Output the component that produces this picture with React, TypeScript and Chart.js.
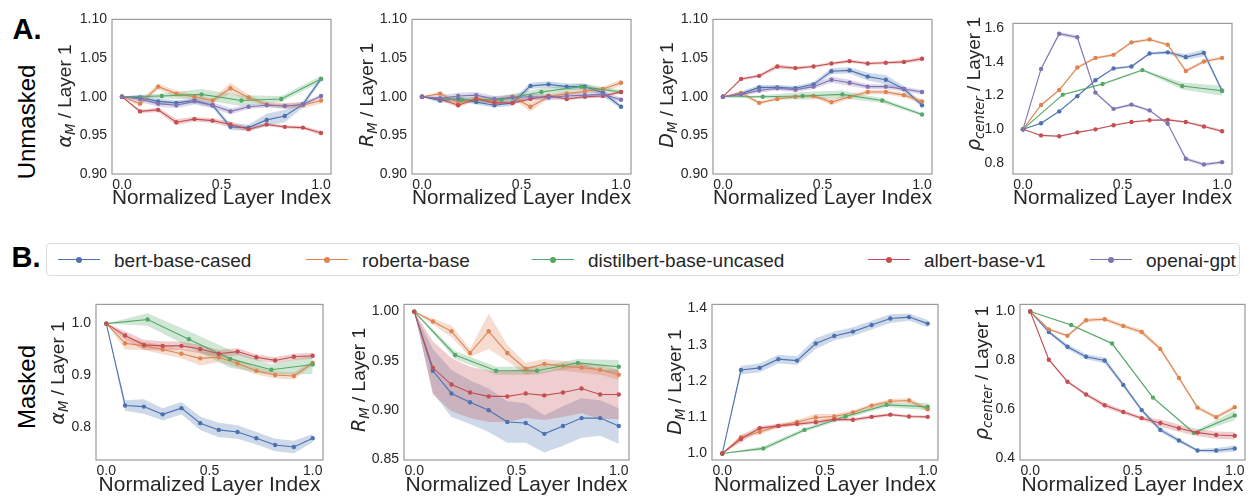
import React, { useEffect, useRef } from "react";
import { Chart, registerables } from "chart.js";

Chart.register(...registerables);

const FONT = "'Liberation Sans', Arial, Helvetica, sans-serif";
const MATH = "'DejaVu Sans', sans-serif";
const TEXT = "#262626";
Chart.defaults.font.family = FONT;

// ---------- categories / legend ----------
const models = ["bert-base-cased", "roberta-base", "distilbert-base-uncased", "albert-base-v1", "openai-gpt"];
const colors = ["#4C72B0", "#DD8452", "#55A868", "#C44E52", "#8172B3"];
const bands = ["rgba(76,114,176,0.28)", "rgba(221,132,82,0.28)", "rgba(85,168,104,0.28)", "rgba(196,78,82,0.28)", "rgba(129,114,179,0.28)"];

// normalized layer index (12-layer models, 6-layer distilbert)
const layers12 = [0, 0.091, 0.182, 0.273, 0.364, 0.455, 0.545, 0.636, 0.727, 0.818, 0.909, 1.0];
const layers6 = [0, 0.2, 0.4, 0.6, 0.8, 1.0];
const xTicks = [0, 0.5, 1.0];

// ---------- tick labels ----------
const ticksUnmasked = [0.9, 0.95, 1.0, 1.05, 1.1];
const ticksRhoUnmasked = [0.8, 1.0, 1.2, 1.4, 1.6];
const ticksAlphaMasked = [0.8, 0.9, 1.0];
const ticksRMasked = [0.85, 0.9, 0.95, 1.0];
const ticksDMasked = [1.0, 1.1, 1.2, 1.3, 1.4];
const ticksRhoMasked = [0.4, 0.6, 0.8, 1.0];

// ---------- A. Unmasked : alpha_M ----------
const alphaUBert = [1.0, 0.999, 0.994, 0.992, 0.995, 0.989, 0.961, 0.96, 0.97, 0.975, 0.99, 1.023];
const alphaUBertSd = [0, 0.004, 0.004, 0.003, 0.003, 0.003, 0.004, 0.004, 0.008, 0.008, 0.004, 0.003];
const alphaURoberta = [1.0, 0.991, 1.013, 1.004, 1.0, 0.995, 1.011, 0.999, 0.99, 0.988, 0.989, 0.995];
const alphaURobertaSd = [0, 0.004, 0.004, 0.004, 0.003, 0.003, 0.007, 0.004, 0.003, 0.004, 0.004, 0.004];
const alphaUDistil = [1.0, 1.001, 1.003, 0.995, 0.997, 1.023];
const alphaUDistilSd = [0, 0.003, 0.007, 0.007, 0.004, 0.004];
const alphaUAlbert = [1.0, 0.981, 0.983, 0.967, 0.971, 0.969, 0.964, 0.958, 0.964, 0.961, 0.96, 0.953];
const alphaUAlbertSd = [0, 0.002, 0.003, 0.004, 0.003, 0.003, 0.004, 0.003, 0.002, 0.002, 0.002, 0.003];
const alphaUGpt = [1.0, 0.997, 0.991, 0.989, 0.994, 0.989, 0.981, 0.987, 0.989, 0.988, 0.99, 1.001];
const alphaUGptSd = [0, 0.004, 0.004, 0.004, 0.004, 0.004, 0.004, 0.003, 0.003, 0.003, 0.003, 0.002];

// ---------- A. Unmasked : R_M ----------
const rUBert = [1.0, 0.995, 0.997, 0.993, 0.989, 0.992, 1.014, 1.016, 1.013, 1.013, 1.005, 0.987];
const rUBertSd = [0, 0.003, 0.003, 0.003, 0.003, 0.004, 0.004, 0.004, 0.004, 0.004, 0.004, 0.003];
const rURoberta = [1.0, 1.004, 0.992, 0.998, 0.994, 1.0, 0.987, 1.0, 1.004, 1.007, 1.01, 1.018];
const rURobertaSd = [0, 0.003, 0.003, 0.003, 0.003, 0.003, 0.006, 0.003, 0.003, 0.003, 0.003, 0.004];
const rUDistil = [1.0, 0.996, 0.996, 1.006, 1.013, 1.006];
const rUDistilSd = [0, 0.003, 0.005, 0.005, 0.004, 0.003];
const rUAlbert = [1.0, 0.997, 0.989, 0.997, 0.992, 0.992, 0.997, 1.001, 0.997, 1.0, 1.001, 1.006];
const rUAlbertSd = [0, 0.002, 0.003, 0.002, 0.002, 0.002, 0.002, 0.002, 0.002, 0.002, 0.002, 0.002];
const rUGpt = [1.0, 0.998, 1.001, 1.002, 0.997, 0.999, 1.0, 0.999, 1.001, 1.002, 1.003, 0.996];
const rUGptSd = [0, 0.004, 0.004, 0.004, 0.004, 0.004, 0.004, 0.004, 0.004, 0.004, 0.004, 0.003];

// ---------- A. Unmasked : D_M ----------
const dUBert = [1.0, 1.004, 1.012, 1.012, 1.011, 1.016, 1.033, 1.034, 1.026, 1.022, 1.01, 0.989];
const dUBertSd = [0, 0.003, 0.003, 0.003, 0.003, 0.003, 0.004, 0.004, 0.005, 0.006, 0.004, 0.003];
const dURoberta = [1.0, 1.005, 0.992, 0.997, 1.0, 1.001, 0.993, 1.0, 1.006, 1.006, 1.002, 0.994];
const dURobertaSd = [0, 0.003, 0.002, 0.002, 0.002, 0.002, 0.004, 0.003, 0.003, 0.003, 0.003, 0.003];
const dUDistil = [1.0, 1.0, 1.001, 1.003, 0.995, 0.977];
const dUDistilSd = [0, 0.002, 0.005, 0.005, 0.003, 0.002];
const dUAlbert = [1.0, 1.023, 1.027, 1.039, 1.037, 1.039, 1.043, 1.046, 1.043, 1.044, 1.045, 1.049];
const dUAlbertSd = [0, 0.002, 0.002, 0.003, 0.002, 0.002, 0.002, 0.002, 0.002, 0.002, 0.002, 0.003];
const dUGpt = [1.0, 1.003, 1.008, 1.011, 1.009, 1.013, 1.022, 1.018, 1.013, 1.013, 1.01, 1.006];
const dUGptSd = [0, 0.002, 0.003, 0.003, 0.003, 0.003, 0.004, 0.004, 0.003, 0.003, 0.003, 0.003];

// ---------- A. Unmasked : rho_center ----------
const rhoUBert = [1.0, 1.036, 1.106, 1.196, 1.29, 1.36, 1.371, 1.448, 1.455, 1.427, 1.452, 1.228];
const rhoUBertSd = [0, 0.005, 0.005, 0.005, 0.006, 0.006, 0.007, 0.008, 0.01, 0.018, 0.02, 0.01];
const rhoURoberta = [1.0, 1.144, 1.232, 1.365, 1.422, 1.44, 1.514, 1.531, 1.5, 1.345, 1.401, 1.422];
const rhoURobertaSd = [0, 0.005, 0.006, 0.008, 0.008, 0.008, 0.008, 0.008, 0.008, 0.01, 0.01, 0.01];
const rhoUDistil = [1.0, 1.205, 1.268, 1.35, 1.256, 1.228];
const rhoUDistilSd = [0, 0.004, 0.006, 0.006, 0.02, 0.03];
const rhoUAlbert = [1.0, 0.964, 0.959, 0.982, 1.0, 1.024, 1.043, 1.054, 1.056, 1.043, 1.017, 0.989];
const rhoUAlbertSd = [0, 0.003, 0.004, 0.004, 0.004, 0.004, 0.005, 0.005, 0.006, 0.006, 0.008, 0.008];
const rhoUGpt = [1.0, 1.357, 1.565, 1.544, 1.217, 1.121, 1.146, 1.112, 1.033, 0.826, 0.792, 0.806];
const rhoUGptSd = [0, 0.005, 0.01, 0.012, 0.006, 0.008, 0.008, 0.006, 0.006, 0.01, 0.01, 0.008];

// ---------- B. Masked : alpha_M ----------
const alphaMBert = [1.0, 0.842, 0.84, 0.825, 0.837, 0.808, 0.795, 0.791, 0.779, 0.766, 0.762, 0.779];
const alphaMBertSd = [0, 0.01, 0.014, 0.012, 0.012, 0.013, 0.014, 0.013, 0.012, 0.012, 0.012, 0.008];
const alphaMRoberta = [1.0, 0.962, 0.957, 0.95, 0.942, 0.933, 0.935, 0.923, 0.909, 0.901, 0.899, 0.924];
const alphaMRobertaSd = [0, 0.012, 0.008, 0.009, 0.009, 0.014, 0.009, 0.008, 0.007, 0.007, 0.007, 0.005];
const alphaMDistil = [1.0, 1.008, 0.97, 0.932, 0.911, 0.921];
const alphaMDistilSd = [0, 0.012, 0.015, 0.017, 0.01, 0.018];
const alphaMAlbert = [1.0, 0.977, 0.959, 0.957, 0.957, 0.951, 0.942, 0.946, 0.935, 0.929, 0.936, 0.938];
const alphaMAlbertSd = [0, 0.008, 0.01, 0.009, 0.008, 0.008, 0.007, 0.007, 0.006, 0.006, 0.006, 0.006];

// ---------- B. Masked : R_M ----------
const rMBert = [1.0, 0.94, 0.917, 0.908, 0.9, 0.888, 0.887, 0.876, 0.884, 0.892, 0.892, 0.884];
const rMBertSd = [0, 0.022, 0.024, 0.022, 0.022, 0.021, 0.02, 0.019, 0.02, 0.02, 0.018, 0.018];
const rMRoberta = [1.0, 0.99, 0.98, 0.958, 0.98, 0.958, 0.942, 0.947, 0.945, 0.943, 0.941, 0.936];
const rMRobertaSd = [0, 0.003, 0.006, 0.004, 0.018, 0.008, 0.006, 0.005, 0.005, 0.005, 0.005, 0.005];
const rMDistil = [1.0, 0.956, 0.94, 0.94, 0.948, 0.944];
const rMDistilSd = [0, 0.004, 0.004, 0.004, 0.004, 0.007];
const rMAlbert = [1.0, 0.943, 0.926, 0.918, 0.914, 0.914, 0.917, 0.915, 0.918, 0.922, 0.916, 0.916];
const rMAlbertSd = [0, 0.027, 0.027, 0.026, 0.026, 0.026, 0.025, 0.025, 0.025, 0.025, 0.025, 0.025];

// ---------- B. Masked : D_M ----------
const dMBert = [1.0, 1.23, 1.236, 1.26, 1.256, 1.303, 1.324, 1.336, 1.354, 1.372, 1.376, 1.358];
const dMBertSd = [0, 0.012, 0.012, 0.012, 0.012, 0.015, 0.012, 0.012, 0.012, 0.012, 0.01, 0.01];
const dMRoberta = [1.0, 1.045, 1.059, 1.076, 1.087, 1.099, 1.102, 1.113, 1.132, 1.144, 1.146, 1.122];
const dMRobertaSd = [0, 0.006, 0.007, 0.006, 0.006, 0.01, 0.007, 0.006, 0.006, 0.006, 0.007, 0.007];
const dMDistil = [1.0, 1.014, 1.065, 1.102, 1.134, 1.129];
const dMDistilSd = [0, 0.006, 0.005, 0.006, 0.006, 0.01];
const dMAlbert = [1.0, 1.04, 1.07, 1.076, 1.081, 1.086, 1.094, 1.093, 1.101, 1.107, 1.102, 1.101];
const dMAlbertSd = [0, 0.01, 0.006, 0.006, 0.005, 0.005, 0.005, 0.005, 0.005, 0.004, 0.004, 0.004];

// ---------- B. Masked : rho_center ----------
const rhoMBert = [1.0, 0.916, 0.856, 0.815, 0.8, 0.7, 0.597, 0.516, 0.473, 0.432, 0.432, 0.44];
const rhoMBertSd = [0, 0.006, 0.01, 0.01, 0.012, 0.01, 0.008, 0.01, 0.008, 0.006, 0.01, 0.012];
const rhoMRoberta = [1.0, 0.927, 0.901, 0.964, 0.968, 0.941, 0.916, 0.847, 0.728, 0.607, 0.568, 0.609];
const rhoMRobertaSd = [0, 0.006, 0.006, 0.008, 0.008, 0.008, 0.01, 0.01, 0.008, 0.008, 0.008, 0.01];
const rhoMDistil = [1.0, 0.945, 0.869, 0.648, 0.504, 0.575];
const rhoMDistilSd = [0, 0.003, 0.004, 0.004, 0.005, 0.02];
const rhoMAlbert = [1.0, 0.803, 0.713, 0.661, 0.617, 0.589, 0.564, 0.544, 0.523, 0.505, 0.495, 0.492];
const rhoMAlbertSd = [0, 0.004, 0.006, 0.006, 0.01, 0.008, 0.008, 0.015, 0.015, 0.015, 0.015, 0.015];

// ---------- layout ----------
const YW = 50; // y-axis box width
const XH = 36; // x-axis box height
const TP = 10; // top padding
const RP = 4; // right padding

type Series = [number[], number[]] | null;
interface PanelCfg {
  area: [number, number, number, number];
  yMin: number;
  yMax: number;
  yTicks: number[];
  digits: number;
  tickPad: number;
  xTitlePad: number;
  sym: string;
  sub: string;
  titleX: number;
  titleY: number;
  series: Series[];
}

const panels: PanelCfg[] = [
  {
    area: [112, 16, 331, 174], yMin: 0.9, yMax: 1.1, yTicks: ticksUnmasked, digits: 2, tickPad: 5, xTitlePad: 1,
    sym: "α", sub: "M", titleX: 64, titleY: 96,
    series: [[alphaUBert, alphaUBertSd], [alphaURoberta, alphaURobertaSd], [alphaUDistil, alphaUDistilSd], [alphaUAlbert, alphaUAlbertSd], [alphaUGpt, alphaUGptSd]],
  },
  {
    area: [412, 16, 631, 174], yMin: 0.9, yMax: 1.1, yTicks: ticksUnmasked, digits: 2, tickPad: 5, xTitlePad: 1,
    sym: "R", sub: "M", titleX: 366, titleY: 95,
    series: [[rUBert, rUBertSd], [rURoberta, rURobertaSd], [rUDistil, rUDistilSd], [rUAlbert, rUAlbertSd], [rUGpt, rUGptSd]],
  },
  {
    area: [713, 16, 932, 174], yMin: 0.9, yMax: 1.1, yTicks: ticksUnmasked, digits: 2, tickPad: 5, xTitlePad: 1,
    sym: "D", sub: "M", titleX: 666, titleY: 95,
    series: [[dUBert, dUBertSd], [dURoberta, dURobertaSd], [dUDistil, dUDistilSd], [dUAlbert, dUAlbertSd], [dUGpt, dUGptSd]],
  },
  {
    area: [1013, 16, 1232, 174], yMin: 0.736, yMax: 1.626, yTicks: ticksRhoUnmasked, digits: 1, tickPad: 9, xTitlePad: 1,
    sym: "ρ", sub: "center", titleX: 973, titleY: 84,
    series: [[rhoUBert, rhoUBertSd], [rhoURoberta, rhoURobertaSd], [rhoUDistil, rhoUDistilSd], [rhoUAlbert, rhoUAlbertSd], [rhoUGpt, rhoUGptSd]],
  },
  {
    area: [96, 301, 323, 460], yMin: 0.737, yMax: 1.037, yTicks: ticksAlphaMasked, digits: 1, tickPad: 5, xTitlePad: 0,
    sym: "α", sub: "M", titleX: 57, titleY: 373,
    series: [[alphaMBert, alphaMBertSd], [alphaMRoberta, alphaMRobertaSd], [alphaMDistil, alphaMDistilSd], [alphaMAlbert, alphaMAlbertSd], null],
  },
  {
    area: [404, 301, 629, 460], yMin: 0.8495, yMax: 1.0073, yTicks: ticksRMasked, digits: 2, tickPad: 5, xTitlePad: 0,
    sym: "R", sub: "M", titleX: 358, titleY: 380,
    series: [[rMBert, rMBertSd], [rMRoberta, rMRobertaSd], [rMDistil, rMDistilSd], [rMAlbert, rMAlbertSd], null],
  },
  {
    area: [712, 301, 938, 460], yMin: 0.982, yMax: 1.411, yTicks: ticksDMasked, digits: 1, tickPad: 5, xTitlePad: 0,
    sym: "D", sub: "M", titleX: 674, titleY: 382,
    series: [[dMBert, dMBertSd], [dMRoberta, dMRobertaSd], [dMDistil, dMDistilSd], [dMAlbert, dMAlbertSd], null],
  },
  {
    area: [1020, 301, 1245, 460], yMin: 0.393, yMax: 1.029, yTicks: ticksRhoMasked, digits: 1, tickPad: 5, xTitlePad: 0,
    sym: "ρ", sub: "center", titleX: 981, titleY: 373,
    series: [[rhoMBert, rhoMBertSd], [rhoMRoberta, rhoMRobertaSd], [rhoMDistil, rhoMDistilSd], [rhoMAlbert, rhoMAlbertSd], null],
  },
];

const framePlugin = {
  id: "frame",
  afterDatasetsDraw(chart: any) {
    const { ctx, chartArea } = chart;
    const { left, top, right, bottom } = chartArea;
    ctx.save();
    ctx.strokeStyle = "#9a9a9a";
    ctx.lineWidth = 1.2;
    ctx.strokeRect(left, top, right - left, bottom - top);
    ctx.restore();
  },
};

function buildDatasets(cfg: PanelCfg) {
  const bandSets: any[] = [];
  const lineSets: any[] = [];
  cfg.series.forEach((s, i) => {
    if (!s) return;
    const [mean, sd] = s;
    const xs = i === 2 ? layers6 : layers12;
    bandSets.push({
      label: models[i] + " upper",
      data: mean.map((v, k) => ({ x: xs[k], y: v + sd[k] })),
      borderWidth: 0,
      borderColor: "rgba(0,0,0,0)",
      pointRadius: 0,
      fill: false,
      order: 20 - i,
    });
    bandSets.push({
      label: models[i] + " lower",
      data: mean.map((v, k) => ({ x: xs[k], y: v - sd[k] })),
      borderWidth: 0,
      borderColor: "rgba(0,0,0,0)",
      backgroundColor: bands[i],
      pointRadius: 0,
      fill: "-1",
      order: 20 - i,
    });
    lineSets.push({
      label: models[i],
      data: mean.map((v, k) => ({ x: xs[k], y: v })),
      borderColor: colors[i],
      backgroundColor: colors[i],
      pointBackgroundColor: colors[i],
      pointBorderWidth: 0,
      pointRadius: 2.2,
      borderWidth: 1.1,
      fill: false,
      order: 10 - i,
    });
  });
  return [...bandSets, ...lineSets];
}

function Panel({ cfg }: { cfg: PanelCfg }) {
  const ref = useRef<HTMLCanvasElement>(null);
  const [l, t, r, b] = cfg.area;
  const w = YW + (r - l) + RP;
  const h = TP + (b - t) + XH;
  useEffect(() => {
    if (!ref.current) return;
    const chart = new Chart(ref.current, {
      type: "line",
      data: { datasets: buildDatasets(cfg) },
      options: {
        animation: false,
        responsive: false,
        maintainAspectRatio: false,
        layout: { padding: { top: TP, right: RP, left: 0, bottom: 0 } },
        elements: { line: { tension: 0 } },
        plugins: { legend: { display: false }, tooltip: { enabled: false } },
        scales: {
          x: {
            type: "linear",
            min: -0.05,
            max: 1.05,
            grid: { display: false, drawTicks: false, tickLength: 0 },
            border: { display: false },
            ticks: {
              color: TEXT,
              font: { family: FONT, size: 14, lineHeight: 1.2 },
              padding: 3,
              maxRotation: 0,
              autoSkip: false,
              callback: (v: any) => Number(v).toFixed(1),
            },
            afterBuildTicks: (s: any) => {
              s.ticks = xTicks.map((v) => ({ value: v }));
            },
            afterFit: (s: any) => {
              s.height = XH;
            },
            title: {
              display: true,
              text: "Normalized Layer Index",
              color: TEXT,
              font: { family: FONT, size: 21, lineHeight: 1 },
              padding: { top: 0, bottom: cfg.xTitlePad },
            },
          },
          y: {
            type: "linear",
            min: cfg.yMin,
            max: cfg.yMax,
            grid: { display: false, drawTicks: false, tickLength: 0 },
            border: { display: false },
            ticks: {
              color: TEXT,
              font: { family: FONT, size: 14, lineHeight: 1.2 },
              padding: cfg.tickPad,
              autoSkip: false,
              callback: (v: any) => Number(v).toFixed(cfg.digits),
            },
            afterBuildTicks: (s: any) => {
              s.ticks = cfg.yTicks.map((v) => ({ value: v }));
            },
            afterFit: (s: any) => {
              s.width = YW;
            },
          },
        },
      },
      plugins: [framePlugin],
    } as any);
    return () => chart.destroy();
  }, []);
  return (
    <canvas
      ref={ref}
      width={w}
      height={h}
      style={{ position: "absolute", left: l - YW, top: t - TP, width: w, height: h }}
    />
  );
}

function Centered({ x, y, rotate, style, children }: any) {
  return (
    <div
      style={{
        position: "absolute",
        left: x,
        top: y,
        transform: `translate(-50%, -50%)${rotate ? " rotate(-90deg)" : ""}`,
        whiteSpace: "nowrap",
        lineHeight: 1,
        fontFamily: FONT,
        color: "#000",
        ...style,
      }}
    >
      {children}
    </div>
  );
}

function YTitle({ cfg }: { cfg: PanelCfg }) {
  return (
    <Centered x={cfg.titleX} y={cfg.titleY} rotate style={{ fontSize: 19, color: TEXT }}>
      <span style={{ fontFamily: MATH, fontStyle: "italic" }}>{cfg.sym}</span>
      <span style={{ fontFamily: MATH, fontStyle: "italic", fontSize: "0.7em", position: "relative", top: "0.28em" }}>
        {cfg.sub}
      </span>
      <span> / Layer 1</span>
    </Centered>
  );
}

const legendLineStart = [58, 306, 532, 868, 1090];
const legendTextStart = [114, 362, 588, 924, 1146];

function Legend() {
  return (
    <div>
      <div
        style={{
          position: "absolute",
          left: 46,
          top: 243,
          width: 1194,
          height: 33,
          border: "1px solid #dcdcdc",
          borderRadius: 4,
          boxSizing: "border-box",
          background: "#fff",
        }}
      />
      {models.map((m, i) => (
        <React.Fragment key={m}>
          <div
            style={{
              position: "absolute",
              left: legendLineStart[i],
              top: 259,
              width: 42,
              height: 1.3,
              background: colors[i],
            }}
          />
          <div
            style={{
              position: "absolute",
              left: legendLineStart[i] + 21 - 3,
              top: 256.7,
              width: 6,
              height: 6,
              borderRadius: 3,
              background: colors[i],
            }}
          />
          <div
            style={{
              position: "absolute",
              left: legendTextStart[i],
              top: 260,
              transform: "translateY(-50%)",
              fontFamily: FONT,
              fontSize: 19,
              lineHeight: 1,
              color: TEXT,
              whiteSpace: "nowrap",
            }}
          >
            {m}
          </div>
        </React.Fragment>
      ))}
    </div>
  );
}

export default function App() {
  return (
    <div
      style={{
        position: "absolute",
        left: 0,
        top: 0,
        width: 1249,
        height: 496,
        overflow: "hidden",
        background: "#fff",
      }}
    >
      <Centered x={27} y={29} style={{ fontSize: 29, fontWeight: "bold" }}>A.</Centered>
      <Centered x={26} y={257} style={{ fontSize: 29, fontWeight: "bold" }}>B.</Centered>
      <Centered x={27} y={122} rotate style={{ fontSize: 24 }}>Unmasked</Centered>
      <Centered x={27} y={387} rotate style={{ fontSize: 24 }}>Masked</Centered>
      <Legend />
      {panels.map((p, i) => (
        <Panel key={i} cfg={p} />
      ))}
      {panels.map((p, i) => (
        <YTitle key={"t" + i} cfg={p} />
      ))}
    </div>
  );
}
